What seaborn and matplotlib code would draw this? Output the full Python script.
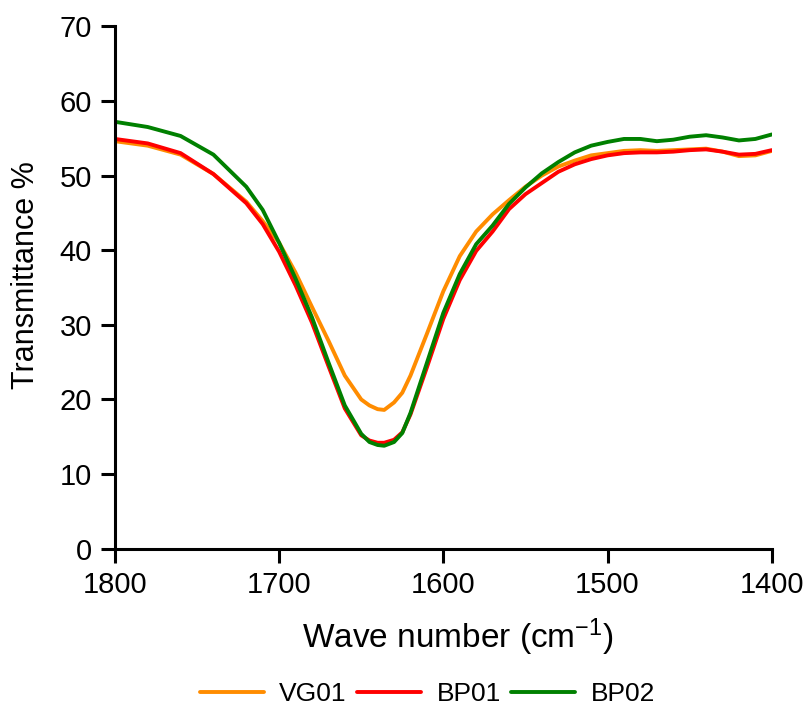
import pandas as pd
import matplotlib.pyplot as plt
import seaborn as sns

# wave numbers (cm-1) and transmittance (%)
wave = [1800, 1780, 1760, 1740, 1720, 1710, 1700, 1690, 1680, 1670, 1660, 1650,
        1645, 1640, 1636, 1630, 1625, 1620, 1610, 1600, 1590, 1580, 1570, 1560,
        1550, 1540, 1530, 1520, 1510, 1500, 1490, 1480, 1470, 1460, 1450, 1440,
        1430, 1420, 1410, 1400]

vg01 = [54.6, 54.0, 52.8, 50.2, 46.5, 43.9, 41.0, 37.0, 32.4, 27.9, 23.2, 20.0,
        19.2, 18.7, 18.6, 19.6, 20.9, 23.2, 28.8, 34.5, 39.2, 42.5, 44.8, 46.7,
        48.5, 50.0, 51.2, 52.0, 52.7, 53.0, 53.3, 53.4, 53.3, 53.4, 53.5, 53.6,
        53.2, 52.6, 52.7, 53.3]

bp01 = [54.9, 54.3, 53.0, 50.2, 46.3, 43.5, 39.8, 35.3, 30.3, 24.5, 18.8, 15.2,
        14.5, 14.2, 14.2, 14.6, 15.6, 18.0, 24.3, 30.8, 36.0, 39.9, 42.5, 45.5,
        47.5, 49.0, 50.5, 51.5, 52.2, 52.7, 53.0, 53.1, 53.1, 53.2, 53.4, 53.5,
        53.2, 52.8, 52.9, 53.4]

bp02 = [57.2, 56.5, 55.3, 52.8, 48.5, 45.4, 41.0, 36.2, 31.0, 25.0, 19.2, 15.4,
        14.3, 13.9, 13.8, 14.3, 15.5, 18.2, 24.9, 31.6, 36.8, 40.8, 43.3, 46.2,
        48.4, 50.3, 51.8, 53.1, 54.0, 54.5, 54.9, 54.9, 54.6, 54.8, 55.2, 55.4,
        55.1, 54.7, 54.9, 55.5]

samples = ['VG01', 'BP01', 'BP02']
colors = ['#FF8C00', '#FF0000', '#008000']

df = pd.concat([
    pd.DataFrame({'wave': wave, 'T': vals, 'sample': name})
    for name, vals in zip(samples, [vg01, bp01, bp02])
])

sns.set_style('ticks')
plt.rcParams['font.family'] = ['Liberation Sans', 'DejaVu Sans']
plt.rcParams['text.color'] = 'black'
plt.rcParams['axes.labelcolor'] = 'black'
plt.rcParams['xtick.color'] = 'black'
plt.rcParams['ytick.color'] = 'black'

fig = plt.figure(figsize=(8.09, 7.09), dpi=100)
ax = fig.add_axes([0.142, 0.226, 0.812, 0.737])

sns.lineplot(data=df, x='wave', y='T', hue='sample', palette=colors,
             hue_order=samples, linewidth=2.8, ax=ax, sort=False)

ax.set_xlim(1800, 1400)
ax.set_ylim(0, 70)
ax.set_xticks([1800, 1700, 1600, 1500, 1400])
ax.set_yticks(range(0, 71, 10))
ax.tick_params(labelsize=21, width=2.2, length=10, direction='out')
ax.tick_params(axis='x', pad=6)
ax.tick_params(axis='y', pad=6.5)
for s in ['left', 'bottom']:
    ax.spines[s].set_linewidth(2.2)
    ax.spines[s].set_color('black')
sns.despine(ax=ax)

ax.set_xlabel('Wave number (cm$\\mathregular{^{-1}}$)', fontsize=24)
ax.set_ylabel('Transmittance %', fontsize=22)
ax.xaxis.set_label_coords(0.522, -0.13)
ax.yaxis.set_label_coords(-0.112, 0.524)

ax.legend(loc='upper center', bbox_to_anchor=(0.476, -0.21), ncol=3,
          frameon=False, fontsize=19, handlelength=2.4, columnspacing=0.4,
          handletextpad=0.6)

fig.savefig('out.png', dpi=100)
